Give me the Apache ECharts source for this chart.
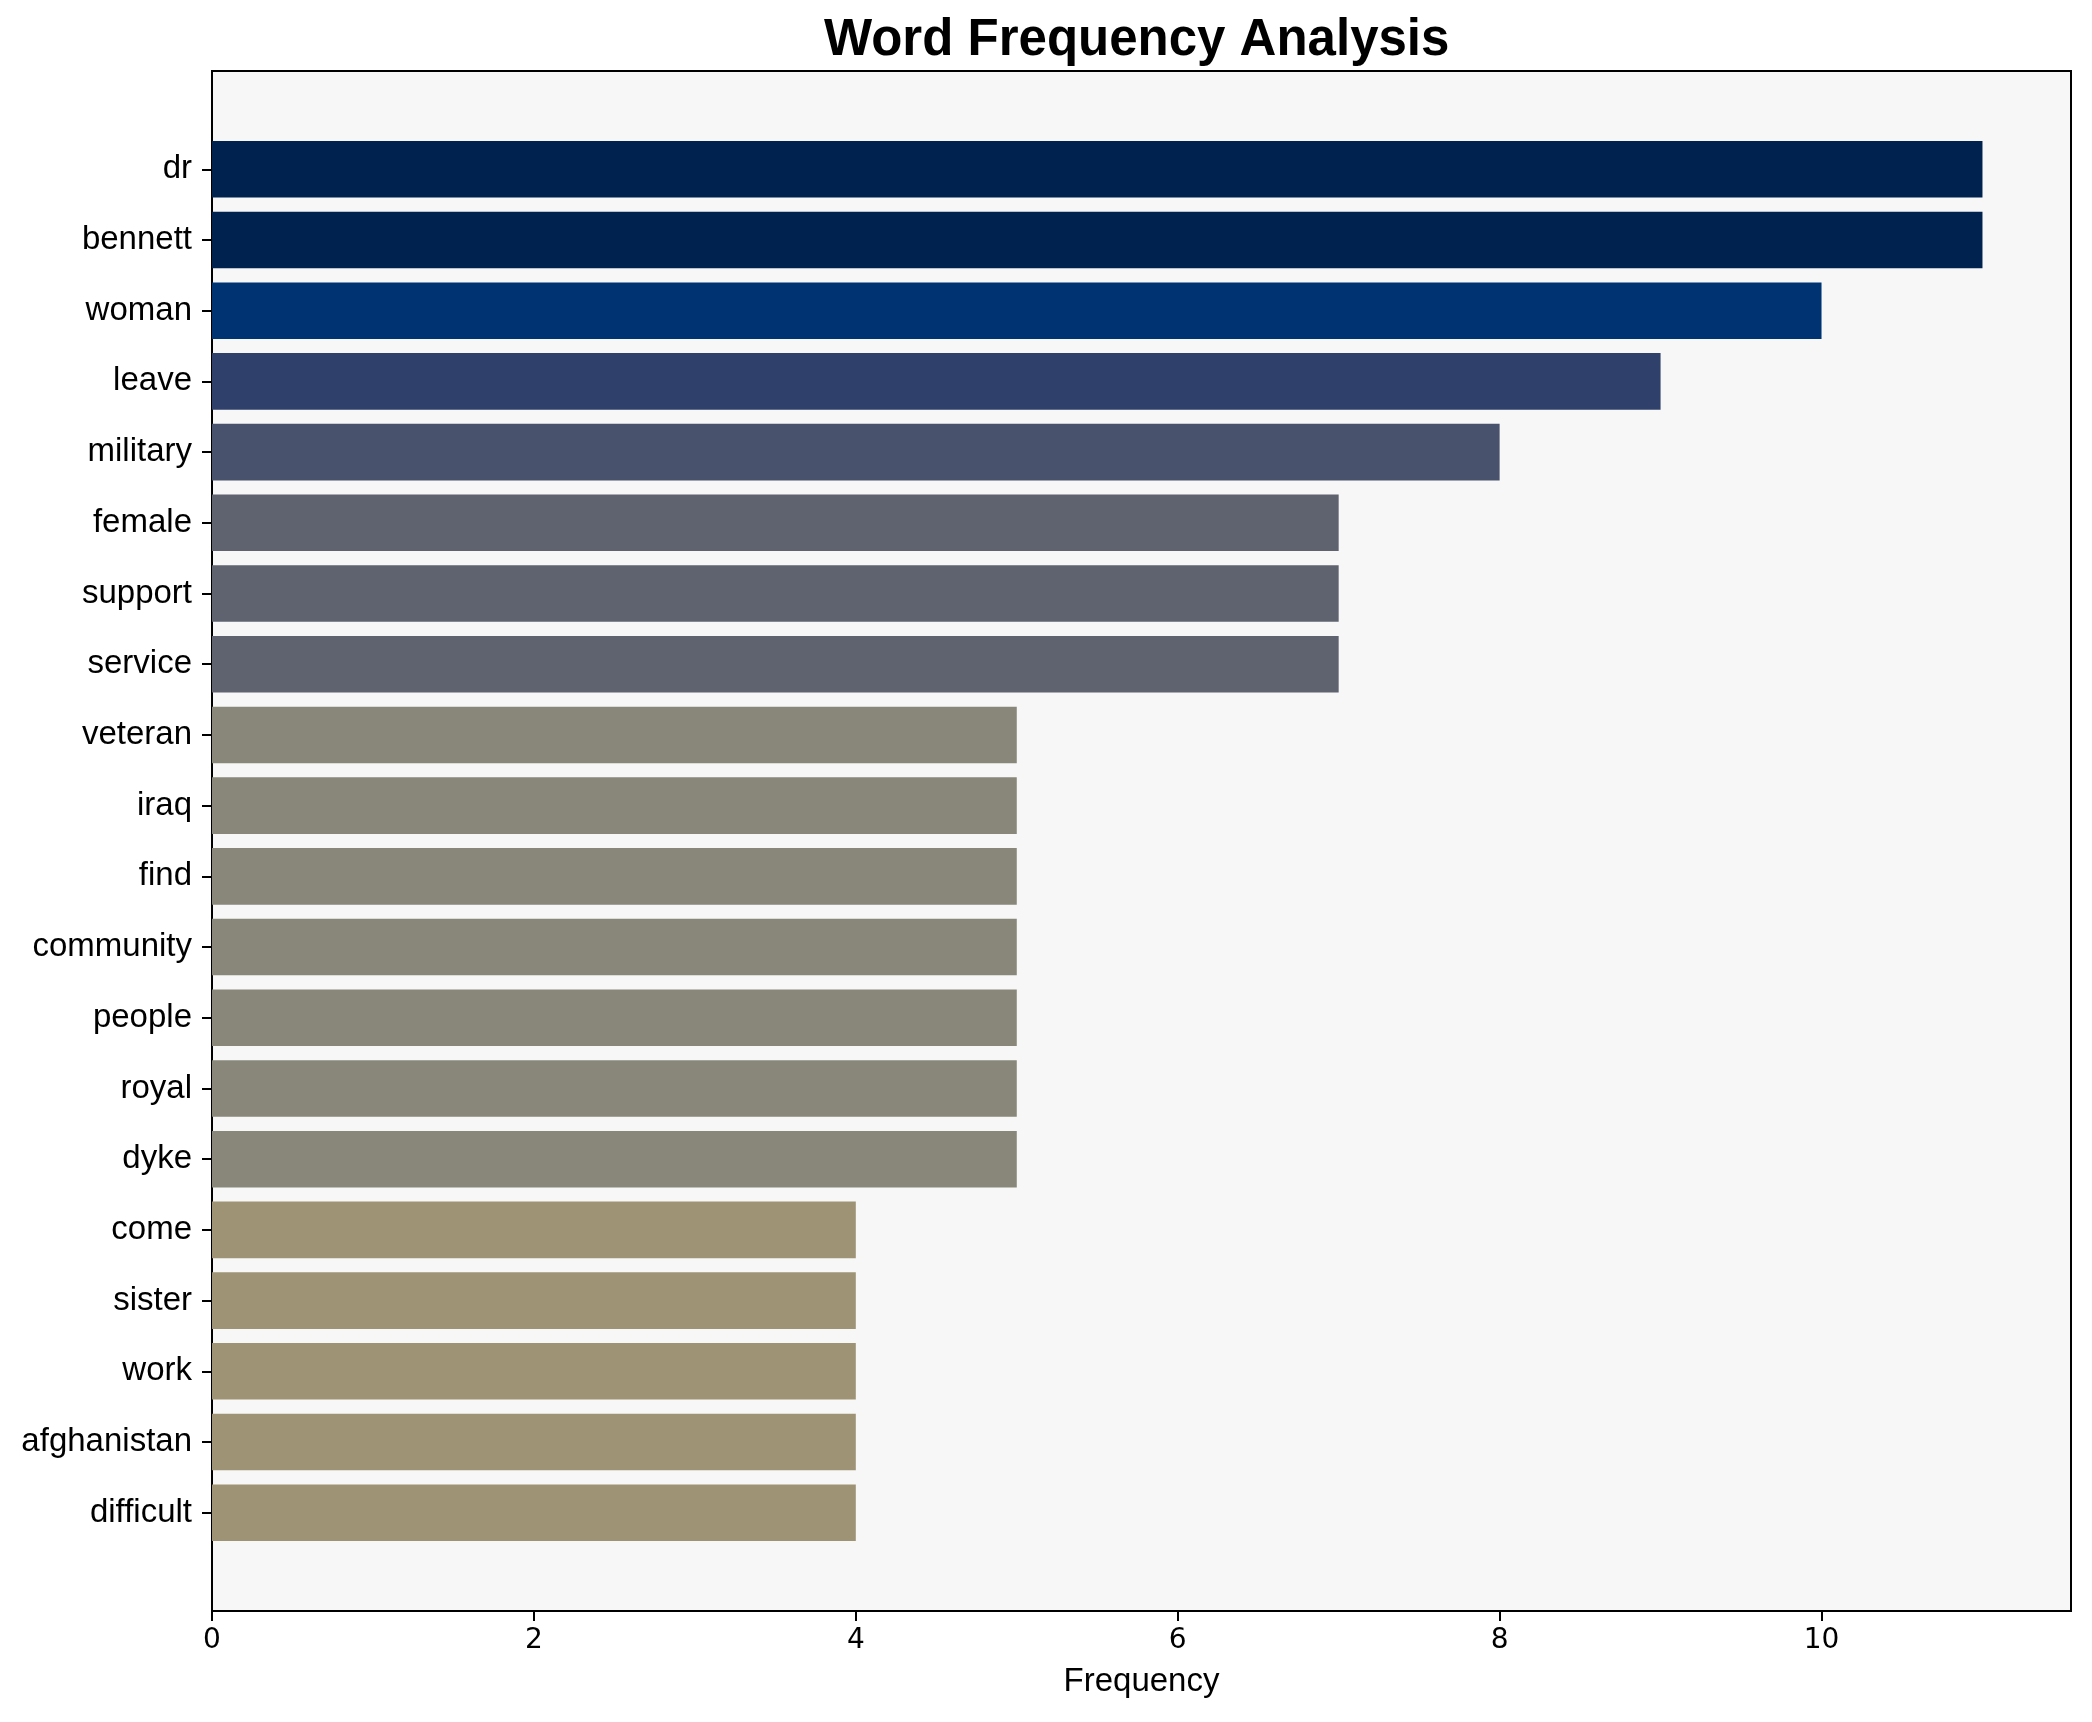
<!DOCTYPE html>
<html>
<head>
<meta charset="utf-8">
<script src="https://cdn.jsdelivr.net/npm/echarts@6/dist/echarts.min.js"></script>
<style>html,body{margin:0;padding:0;background:#fff;}#c{width:2092px;height:1722px;}</style>
</head>
<body>
<div id="c"></div>
<script>
const words = ['dr','bennett','woman','leave','military','female','support','service','veteran','iraq','find','community','people','royal','dyke','come','sister','work','afghanistan','difficult'];
const counts = [11,11,10,9,8,7,7,7,5,5,5,5,5,5,5,4,4,4,4,4];
const barColors = ['#00224e','#00224e','#003371','#2f416b','#48526c','#5e636f','#5e636f','#5e636f','#89877a','#89877a','#89877a','#89877a','#89877a','#89877a','#89877a','#9e9475','#9e9475','#9e9475','#9e9475','#9e9475'];
const xTicks = [0,2,4,6,8,10];
const xMax = 11.55;

const FONT = 'Liberation Sans, Arial, sans-serif';
const chart = echarts.init(document.getElementById('c'), null, {renderer:'canvas'});
const L = 212, W = 1859, T = 71, H = 1540;
const pad = H * 0.89 / 21.78;

chart.setOption({
  animation: false,
  backgroundColor: '#ffffff',
  title: {
    text: 'Word Frequency Analysis',
    left: 819, top: 10,
    textStyle: {fontFamily: FONT, fontSize: 51, fontWeight: 'bold', color: '#000'}
  },
  grid: [
    {left: L, top: T, width: W, height: H, show: true, backgroundColor: '#f7f7f7', borderColor: '#000', borderWidth: 2, containLabel: false},
    {left: L, top: T + pad, width: W, height: H - 2 * pad, show: false, containLabel: false}
  ],
  xAxis: [
    {
      gridIndex: 0, type: 'value', min: 0, max: xMax,
      name: 'Frequency', nameLocation: 'middle', nameGap: 54,
      nameTextStyle: {fontFamily: FONT, fontSize: 33, color: '#000'},
      axisLine: {show: true, lineStyle: {color: '#000', width: 2}},
      axisTick: {show: true, length: 10, lineStyle: {color: '#000', width: 2}, customValues: xTicks},
      axisLabel: {show: true, fontFamily: 'DejaVu Sans', fontSize: 28, color: '#000', margin: 16, customValues: xTicks},
      splitLine: {show: false}
    },
    {
      gridIndex: 1, type: 'value', min: 0, max: xMax, show: false,
      splitLine: {show: false}
    }
  ],
  yAxis: [
    {gridIndex: 0, type: 'value', min: 0, max: 1, show: false, splitLine: {show: false}},
    {
      gridIndex: 1, type: 'category', data: words, inverse: true,
      axisLine: {show: false},
      axisTick: {show: true, alignWithLabel: true, length: 10, lineStyle: {color: '#000', width: 2}},
      axisLabel: {show: true, fontFamily: FONT, fontSize: 33, color: '#000', margin: 20, padding: [6, 0, 0, 0]},
      splitLine: {show: false}
    }
  ],
  series: [{
    type: 'bar',
    xAxisIndex: 1, yAxisIndex: 1,
    barWidth: '80%',
    data: counts.map((v, i) => ({value: v, itemStyle: {color: barColors[i]}}))
  }]
});
</script>
</body>
</html>
